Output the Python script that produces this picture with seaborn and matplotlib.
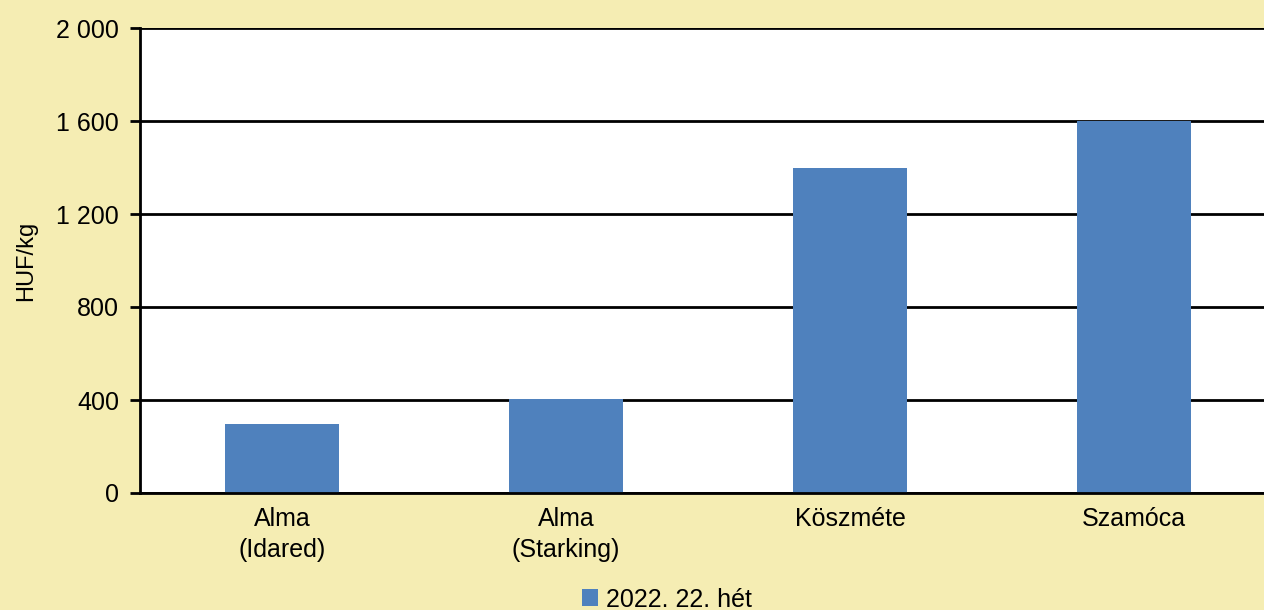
import matplotlib
matplotlib.use("Agg")
import matplotlib.pyplot as plt
import seaborn as sns
import pandas as pd
from matplotlib.ticker import FuncFormatter, MultipleLocator

# Data
categories = ["Alma\n(Idared)", "Alma\n(Starking)", "Köszméte", "Szamóca"]
prices = [296, 405, 1400, 1600]
series_name = "2022. 22. hét"

BG = "#F5EDB3"
BAR = "#4F81BD"

sns.set_theme(style="white")
plt.rcParams["font.family"] = ["Liberation Sans", "DejaVu Sans"]
plt.rcParams["text.color"] = "black"
plt.rcParams["axes.labelcolor"] = "black"
plt.rcParams["xtick.color"] = "black"
plt.rcParams["ytick.color"] = "black"

df = pd.DataFrame({"cat": categories, "price": prices, "series": series_name})

fig = plt.figure(figsize=(12.64, 6.10), dpi=100, facecolor=BG)
ax = fig.add_axes([140 / 1264, 117 / 610, 1136 / 1264, 465 / 610])
ax.set_facecolor("white")

sns.barplot(data=df, x="cat", y="price", hue="series", palette=[BAR],
            width=0.4, ax=ax, saturation=1, edgecolor="none")

ax.set_ylim(0, 2000)
ax.set_xlim(-0.5, 3.5)
ax.yaxis.set_major_locator(MultipleLocator(400))
ax.yaxis.set_major_formatter(FuncFormatter(lambda v, _: f"{v:,.0f}".replace(",", " ")))
ax.grid(axis="y", color="black", lw=2)
ax.set_axisbelow(True)

for s in ["top", "right"]:
    ax.spines[s].set_visible(False)
for s in ["left", "bottom"]:
    ax.spines[s].set_color("black")
    ax.spines[s].set_linewidth(2)

ax.tick_params(axis="y", which="major", length=7, width=2, color="black",
               labelsize=18, pad=8, left=True)
ax.tick_params(axis="x", length=0, labelsize=18, pad=10)
for lbl in ax.get_xticklabels():
    lbl.set_linespacing(1.4)
ax.set_xlabel("")
ax.set_ylabel("HUF/kg", fontsize=17, labelpad=14)

sns.move_legend(ax, "lower center", bbox_to_anchor=(527 / 1136, -0.255),
                title=None, frameon=False, fontsize=18, handlelength=0.65,
                handleheight=0.65, handletextpad=0.3, borderpad=0.0,
                borderaxespad=0.0)

fig.savefig("out.png", dpi=100, facecolor=BG)
